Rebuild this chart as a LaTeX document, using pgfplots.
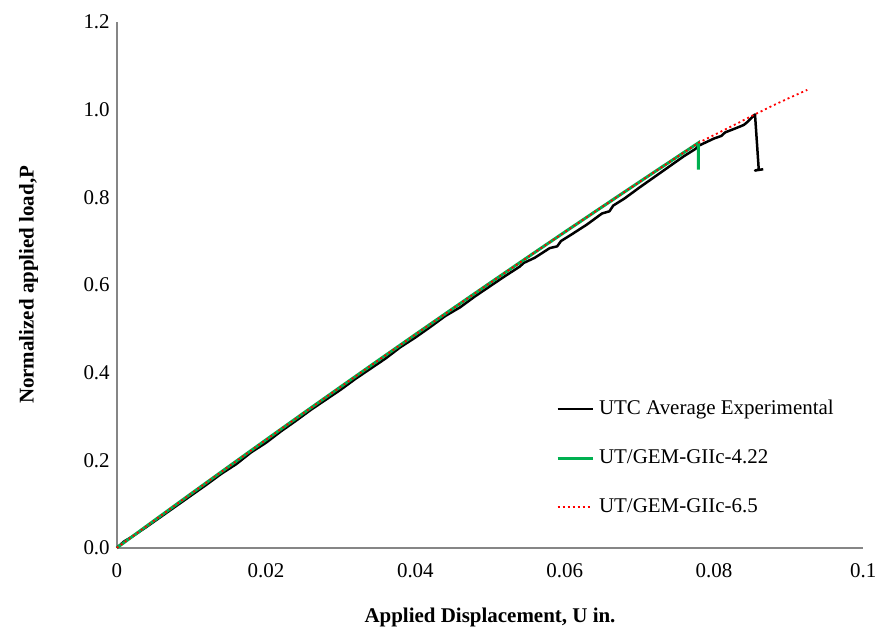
\documentclass[border=0pt]{standalone}
\usepackage{fontspec}
\setmainfont{Liberation Serif}
\usepackage{pgfplots}
\pgfplotsset{compat=1.18}
\definecolor{axgray}{RGB}{134,134,134}
\definecolor{xlgreen}{RGB}{0,176,80}
\definecolor{xlred}{RGB}{255,0,0}

\begin{document}
\begin{tikzpicture}
\begin{axis}[
  scale only axis, width=374pt, height=263.5pt,
  xmin=0, xmax=0.1, ymin=0, ymax=1.2,
  axis x line=bottom, axis y line=left,
  axis line style={-, draw=axgray, line width=0.75pt},
  major tick length=0pt,
  xtick={0,0.02,0.04,0.06,0.08,0.1},
  xticklabels={0,0.02,0.04,0.06,0.08,0.1},
  ytick={0,0.2,0.4,0.6,0.8,1.0,1.2},
  yticklabels={0.0,0.2,0.4,0.6,0.8,1.0,1.2},
  tick label style={font=\fontsize{10.5}{12}\selectfont},
  xticklabel style={yshift=-4.5pt},
  xlabel={\textbf{Applied Displacement, U in.}},
  ylabel={\textbf{Normalized applied load,P}},
  every axis x label/.style={at={(axis description cs:0.5,-0.132)}, anchor=center, font=\fontsize{10.5}{12}\selectfont},
  every axis y label/.style={at={(axis description cs:-0.118,0.5)}, anchor=center, rotate=90, font=\fontsize{10.5}{12}\selectfont},
  legend style={at={(axis cs:0.0588,0.347)}, anchor=north west, draw=none, fill=none,
    inner sep=0pt, row sep=12pt, font=\fontsize{10.5}{12}\selectfont,
    /tikz/every odd column/.append style={column sep=0.5pt}},
  legend cell align=left,
  legend image code/.code={\draw[#1] (0pt,0pt) -- (17.5pt,0pt);},
  clip=false,
]
\coordinate (sw) at (rel axis cs:0,0);
\coordinate (ne) at (rel axis cs:1,1);

% experimental average
\addplot[black, line width=1.25pt, line join=round] coordinates {
(0,0)(0.001,0.015)(0.002,0.025)(0.004,0.048)(0.006,0.072)(0.008,0.096)
(0.010,0.120)(0.012,0.144)(0.014,0.169)(0.016,0.191)(0.018,0.218)(0.020,0.240)
(0.022,0.266)(0.024,0.290)(0.026,0.315)(0.028,0.338)(0.030,0.361)(0.032,0.386)
(0.034,0.409)(0.036,0.432)(0.038,0.458)(0.040,0.480)(0.042,0.504)(0.044,0.529)
(0.046,0.549)(0.048,0.574)(0.050,0.597)(0.052,0.620)(0.054,0.642)(0.0545,0.650)
(0.056,0.662)(0.058,0.684)(0.059,0.688)(0.0595,0.700)(0.061,0.716)(0.063,0.738)
(0.065,0.763)(0.066,0.768)(0.0665,0.781)(0.068,0.797)(0.070,0.822)(0.072,0.846)
(0.074,0.870)(0.076,0.894)(0.0775,0.910)(0.078,0.918)(0.079,0.926)(0.080,0.934)
(0.081,0.940)(0.0815,0.948)(0.083,0.958)(0.084,0.965)(0.0845,0.972)(0.0855,0.989)
(0.0860,0.863)(0.0855,0.861)(0.0866,0.864)
};
\addlegendentry{UTC Average Experimental}

% model GIIc 4.22
\addplot[xlgreen, line width=1.5pt] coordinates {
(0,0)(0.005,0.0623)(0.010,0.1242)(0.015,0.1856)(0.020,0.2467)(0.025,0.3074)
(0.030,0.3676)(0.035,0.4275)(0.040,0.4869)(0.045,0.5459)(0.050,0.6045)
(0.055,0.6627)(0.060,0.7205)(0.065,0.7778)(0.070,0.8348)(0.075,0.8913)
(0.0779,0.9240)(0.0779,0.863)
};
\addlegendentry{UT/GEM-GIIc-4.22}

% model GIIc 6.5
\addplot[xlred, line width=0.9pt, dash pattern=on 1pt off 1.5pt] coordinates {
(0,0)(0.005,0.0623)(0.010,0.1242)(0.015,0.1856)(0.020,0.2467)(0.025,0.3074)
(0.030,0.3676)(0.035,0.4275)(0.040,0.4869)(0.045,0.5459)(0.050,0.6045)
(0.055,0.6627)(0.060,0.7205)(0.065,0.7778)(0.070,0.8348)(0.075,0.8913)
(0.0779,0.9240)(0.080,0.942)(0.0825,0.963)(0.085,0.985)(0.0875,1.006)
(0.090,1.026)(0.0925,1.045)
};
\addlegendentry{UT/GEM-GIIc-6.5}
\end{axis}
\path (sw) ++(-58.5pt,-39.5pt);
\path (ne) ++(9pt,11pt);
\end{tikzpicture}
\end{document}
